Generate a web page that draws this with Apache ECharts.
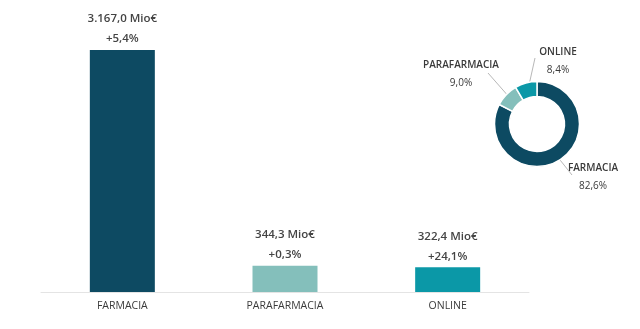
<!DOCTYPE html>
<html>
<head>
<meta charset="utf-8">
<script src="https://cdn.jsdelivr.net/npm/echarts@6/dist/echarts.min.js"></script>
<style>
  html, body { margin: 0; padding: 0; background: #ffffff; }
  #chart { width: 640px; height: 329px; }
</style>
</head>
<body>
<div id="chart"></div>
<script>
// Sales by channel (million euro) and year-on-year growth (%)
const categories = ['FARMACIA', 'PARAFARMACIA', 'ONLINE'];
const salesMio = [3167.0, 344.3, 322.4];
const growthPct = [5.4, 0.3, 24.1];
// Channel share of total (%)
const shareLabels = ['FARMACIA', 'PARAFARMACIA', 'ONLINE'];
const sharePct = [82.6, 9.0, 8.4];

const channelColors = ['#0d4a62', '#84bfbb', '#0b98a7'];
const textColor = '#3a3a3a';
const valueColor = '#444444';
const fontFamily = '"Open Sans", "Noto Sans", sans-serif';

// Donut geometry (pixels) and where each share label sits relative to its centre
const pieCenter = [537, 124];
const pieLabelSpots = [
  { label: [56, 53], lineEnd: [35, 51] },     // FARMACIA
  { label: [-76, -50], lineEnd: [-49, -51] }, // PARAFARMACIA
  { label: [21, -63], lineEnd: [-2, -66] }    // ONLINE
];

function fmtNum(v, decimals) {
  const parts = v.toFixed(decimals).split('.');
  parts[0] = parts[0].replace(/\B(?=(\d{3})+(?!\d))/g, '.');
  return parts.join(',');
}

const chart = echarts.init(document.getElementById('chart'), null, { renderer: 'canvas' });

chart.setOption({
  animation: false,
  backgroundColor: '#ffffff',
  textStyle: { fontFamily: fontFamily },
  grid: { left: 41, right: 111, top: 50, bottom: 37 },
  xAxis: {
    type: 'category',
    data: categories,
    axisLine: { lineStyle: { color: '#e4e4e4', width: 1 } },
    axisTick: { show: false },
    axisLabel: { color: textColor, fontSize: 10.5, margin: 9, fontFamily: fontFamily }
  },
  yAxis: {
    type: 'value',
    min: 0,
    max: 3167,
    show: false,
    splitLine: { show: false }
  },
  series: [
    {
      type: 'bar',
      barWidth: 65,
      data: salesMio.map((v, i) => ({ value: v, itemStyle: { color: channelColors[i] } })),
      label: {
        show: true,
        position: 'top',
        distance: 1,
        color: valueColor,
        fontSize: 11.5,
        fontWeight: 600,
        lineHeight: 20,
        fontFamily: fontFamily,
        formatter: p => fmtNum(p.value, 1) + ' Mio€\n+' + fmtNum(growthPct[p.dataIndex], 1) + '%'
      }
    },
    {
      type: 'pie',
      center: pieCenter,
      radius: [27.5, 42.5],
      startAngle: 90,
      clockwise: true,
      itemStyle: { borderColor: '#ffffff', borderWidth: 1.5 },
      data: sharePct.map((v, i) => ({
        value: v,
        name: shareLabels[i],
        itemStyle: { color: channelColors[i] }
      })),
      label: {
        show: true,
        position: 'outside',
        color: textColor,
        fontFamily: fontFamily,
        align: 'center',
        formatter: p => '{n|' + p.name + '}\n{v|' + fmtNum(p.value, 1) + '%}',
        rich: {
          n: { fontSize: 10, fontWeight: 600, color: textColor, lineHeight: 18, align: 'center' },
          v: { fontSize: 10, color: textColor, lineHeight: 18, align: 'center' }
        }
      },
      labelLine: {
        show: true,
        length: 20,
        length2: 0,
        lineStyle: { color: '#b8b8b8', width: 1 }
      },
      labelLayout: function (params) {
        const spot = pieLabelSpots[params.dataIndex];
        const pts = params.labelLinePoints;
        const p0 = pts[0];
        const dx = p0[0] - pieCenter[0];
        const dy = p0[1] - pieCenter[1];
        const r = Math.sqrt(dx * dx + dy * dy) || 1;
        const start = [pieCenter[0] + dx / r * 35, pieCenter[1] + dy / r * 35];
        const end = [pieCenter[0] + spot.lineEnd[0], pieCenter[1] + spot.lineEnd[1]];
        return {
          x: pieCenter[0] + spot.label[0],
          y: pieCenter[1] + spot.label[1],
          align: 'center',
          verticalAlign: 'middle',
          labelLinePoints: [start, end, end]
        };
      }
    }
  ]
});
</script>
</body>
</html>
